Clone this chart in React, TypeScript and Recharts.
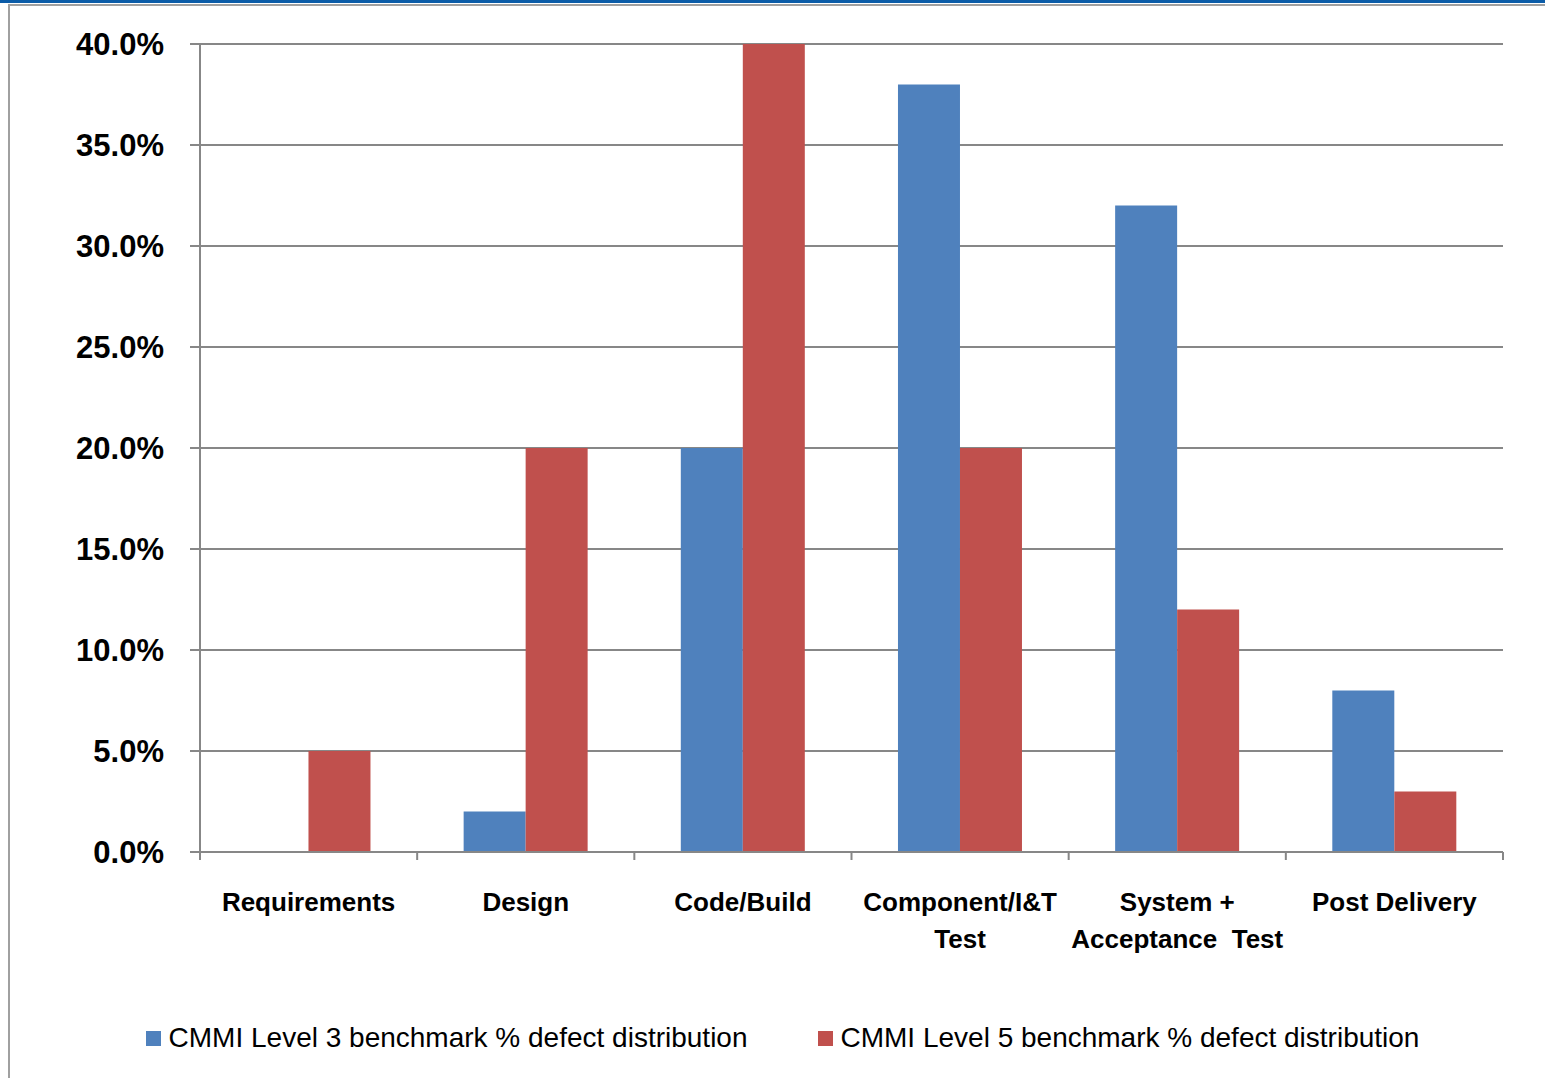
import React from "react";
import { BarChart, Bar, XAxis, YAxis, CartesianGrid, Legend } from "recharts";

const phases = [
  "Requirements",
  "Design",
  "Code/Build",
  "Component/I&T|Test",
  "System +|Acceptance  Test",
  "Post Delivery",
];
const level3 = [0, 2, 20, 38, 32, 8];
const level5 = [5, 20, 40, 20, 12, 3];
const yTicks = [0, 5, 10, 15, 20, 25, 30, 35, 40];

const seriesNames = [
  "CMMI Level 3 benchmark % defect distribution",
  "CMMI Level 5 benchmark % defect distribution",
];

const BLUE = "#4F81BD";
const RED = "#C0504D";
const GRID = "#878787";
const FONT = "'Liberation Sans', Arial, sans-serif";

const data = phases.map((p, i) => ({ phase: p, l3: level3[i], l5: level5[i] }));

function PhaseTick(props: any) {
  const { x, y, payload, index } = props;
  const half = payload.offset ?? 108.5;
  const lines = String(payload.value).split("|");
  return (
    <g>
      <line x1={x - half} y1={y} x2={x - half} y2={y + 8} stroke={GRID} strokeWidth={2} />
      {index === phases.length - 1 && (
        <line x1={x + half} y1={y} x2={x + half} y2={y + 8} stroke={GRID} strokeWidth={2} />
      )}
      <text x={x} y={y + 59} textAnchor="middle" fontSize={26} fontWeight="bold" fill="#000" fontFamily={FONT}>
        {lines.map((l, i) => (
          <tspan key={i} x={x} dy={i === 0 ? 0 : 37} style={{ whiteSpace: "pre" }}>
            {l}
          </tspan>
        ))}
      </text>
    </g>
  );
}

function LegendBox({ payload }: any) {
  return (
    <div
      style={{
        display: "flex",
        justifyContent: "center",
        gap: 70,
        paddingLeft: 20,
        fontFamily: FONT,
        fontSize: 28,
        color: "#000",
      }}
    >
      {(payload || []).map((p: any, i: number) => (
        <div key={i} style={{ display: "flex", alignItems: "center" }}>
          <span style={{ width: 15, height: 15, background: p.color, display: "inline-block", marginRight: 8 }} />
          <span>{p.value}</span>
        </div>
      ))}
    </div>
  );
}

export default function App() {
  return (
    <div style={{ position: "absolute", top: 0, left: 0, width: 1545, height: 1078, background: "#fff", fontFamily: FONT }}>
      <div style={{ position: "absolute", top: 0, left: 0, width: 1545, height: 3, background: "#0b5ca8" }} />
      <div style={{ position: "absolute", top: 4, left: 8, width: 1537, height: 2, background: "#a0a0a0" }} />
      <div style={{ position: "absolute", top: 4, left: 8, width: 2, height: 1074, background: "#a0a0a0" }} />
      <BarChart
        width={1545}
        height={1078}
        data={data}
        margin={{ top: 44, right: 42, left: 0, bottom: 106 }}
        barCategoryGap="21.4%"
        barGap={0}
      >
        <CartesianGrid vertical={false} stroke={GRID} strokeWidth={2} />
        <XAxis
          dataKey="phase"
          height={120}
          interval={0}
          tickSize={0}
          tickMargin={0}
          tickLine={false}
          axisLine={{ stroke: GRID, strokeWidth: 2 }}
          tick={<PhaseTick />}
        />
        <YAxis
          width={200}
          domain={[0, 40]}
          ticks={yTicks}
          interval={0}
          tickSize={10}
          tickMargin={26}
          tickLine={{ stroke: GRID, strokeWidth: 2 }}
          axisLine={{ stroke: GRID, strokeWidth: 2 }}
          tickFormatter={(v: number) => `${v.toFixed(1)}%`}
          tick={{ fontSize: 31, fontWeight: "bold", fill: "#000", fontFamily: FONT }}
        />
        <Bar dataKey="l3" name={seriesNames[0]} fill={BLUE} isAnimationActive={false} />
        <Bar dataKey="l5" name={seriesNames[1]} fill={RED} isAnimationActive={false} />
        <Legend
          verticalAlign="middle"
          layout="horizontal"
          content={<LegendBox />}
          wrapperStyle={{ top: 1022, left: 0, width: 1545 }}
        />
      </BarChart>
    </div>
  );
}
